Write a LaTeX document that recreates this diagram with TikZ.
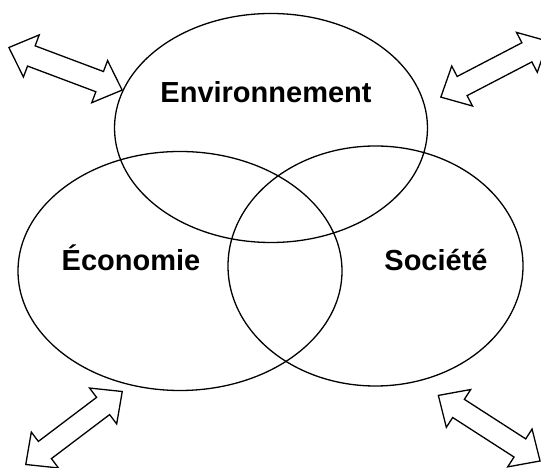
\documentclass[tikz,border=0pt]{standalone}
\usepackage{fontspec}
\setmainfont{Liberation Sans}
\begin{document}
\begin{tikzpicture}[x=1pt,y=1pt,
  circ/.style={draw=black,line width=1.3pt},
  lab/.style={font=\fontsize{29}{34}\selectfont\bfseries,anchor=base,inner sep=0pt},
  blockarrow/.style={draw=black,line width=1.3pt,fill=white,line join=miter}]
\useasboundingbox (0,0) rectangle (541,468);
\clip (0,0) rectangle (541,468);
% ellipses
\draw[circ] (271,340) ellipse [x radius=156.5, y radius=114.5];
\draw[circ] (180,197) ellipse [x radius=162, y radius=119.5];
\draw[circ] (375.5,202) ellipse [x radius=147.5, y radius=120];
% labels
\node[lab] (env) at (266,365) {Environnement};
\node[lab] (eco) at (131,197) {Économie};
\node[lab] (soc) at (436,197) {Société};
% double block arrows
\foreach \cx/\cy/\ang [count=\i] in {65.5/399.2/-20.6, 494.5/398.8/27.5, 74/40/37.1, 489.2/39.8/-32.8}{
  \begin{scope}[shift={(\cx,\cy)},rotate=\ang]
    \draw[blockarrow] (-60.5,0) -- (-36.5,22.5) -- (-36.5,10.8) -- (36.5,10.8) -- (36.5,22.5)
      -- (60.5,0) -- (36.5,-22.5) -- (36.5,-10.8) -- (-36.5,-10.8) -- (-36.5,-22.5) -- cycle;
  \end{scope}
}
\end{tikzpicture}
\end{document}
